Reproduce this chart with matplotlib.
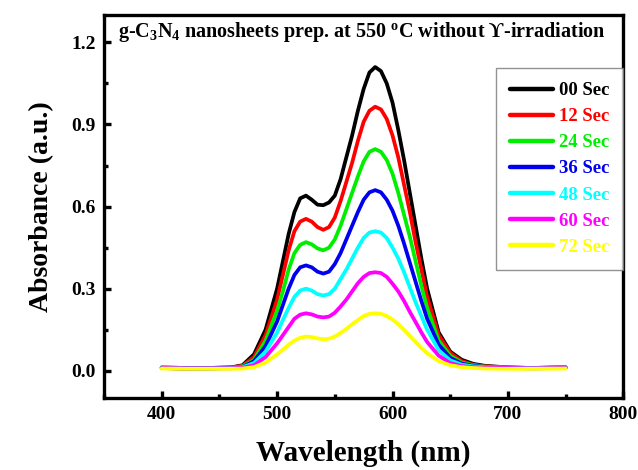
import matplotlib
matplotlib.use("Agg")
import matplotlib.pyplot as plt
from matplotlib.ticker import MultipleLocator

plt.rcParams['font.family'] = ['Liberation Serif', 'DejaVu Serif']
plt.rcParams['font.weight'] = 'bold'
plt.rcParams['mathtext.fontset'] = 'custom'
plt.rcParams['mathtext.rm'] = 'Liberation Serif:bold'
plt.rcParams['mathtext.it'] = 'Liberation Serif:bold'
plt.rcParams['mathtext.bf'] = 'Liberation Serif:bold'

wavelength = [400, 420, 440, 460, 470, 480, 490, 500, 505, 510, 515, 520, 525, 530, 535,
              540, 545, 550, 555, 560, 565, 570, 575, 580, 585, 590, 595, 600, 605, 610,
              615, 620, 625, 630, 640, 650, 660, 670, 680, 700, 720, 750]

abs_00 = [0.012, 0.010, 0.010, 0.012, 0.02, 0.06, 0.15, 0.30, 0.40, 0.50, 0.58, 0.63, 0.64, 0.625, 0.607,
          0.605, 0.615, 0.64, 0.70, 0.78, 0.86, 0.95, 1.03, 1.09, 1.11, 1.095, 1.05, 0.98, 0.88, 0.77,
          0.65, 0.53, 0.41, 0.30, 0.14, 0.07, 0.04, 0.025, 0.018, 0.012, 0.010, 0.012]
abs_12 = [0.010, 0.008, 0.010, 0.012, 0.018, 0.05, 0.13, 0.26, 0.35, 0.44, 0.51, 0.545, 0.555, 0.545, 0.525,
          0.515, 0.525, 0.56, 0.62, 0.69, 0.76, 0.84, 0.91, 0.95, 0.965, 0.955, 0.92, 0.86, 0.78, 0.68,
          0.58, 0.47, 0.37, 0.27, 0.13, 0.065, 0.035, 0.022, 0.016, 0.012, 0.010, 0.013]
abs_24 = [0.012, 0.010, 0.010, 0.011, 0.016, 0.04, 0.11, 0.22, 0.29, 0.37, 0.43, 0.46, 0.47, 0.462, 0.447,
          0.44, 0.45, 0.48, 0.53, 0.59, 0.65, 0.71, 0.765, 0.80, 0.81, 0.80, 0.77, 0.72, 0.65, 0.57,
          0.49, 0.40, 0.31, 0.23, 0.11, 0.055, 0.03, 0.02, 0.015, 0.012, 0.010, 0.012]
abs_36 = [0.010, 0.008, 0.008, 0.010, 0.014, 0.035, 0.09, 0.18, 0.24, 0.30, 0.35, 0.378, 0.385, 0.378, 0.362,
          0.355, 0.362, 0.39, 0.43, 0.48, 0.53, 0.58, 0.625, 0.652, 0.66, 0.652, 0.625, 0.585, 0.53, 0.465,
          0.395, 0.325, 0.255, 0.19, 0.095, 0.047, 0.026, 0.018, 0.014, 0.011, 0.009, 0.010]
abs_48 = [0.011, 0.009, 0.009, 0.010, 0.013, 0.028, 0.07, 0.14, 0.185, 0.23, 0.27, 0.293, 0.30, 0.293, 0.28,
          0.275, 0.28, 0.30, 0.335, 0.37, 0.41, 0.45, 0.485, 0.505, 0.51, 0.505, 0.485, 0.45, 0.41, 0.36,
          0.305, 0.25, 0.20, 0.15, 0.075, 0.038, 0.022, 0.016, 0.013, 0.011, 0.010, 0.011]
abs_60 = [0.010, 0.009, 0.009, 0.009, 0.011, 0.02, 0.05, 0.10, 0.13, 0.16, 0.19, 0.205, 0.21, 0.206, 0.198,
          0.195, 0.198, 0.212, 0.235, 0.26, 0.29, 0.32, 0.343, 0.357, 0.36, 0.357, 0.343, 0.318, 0.29, 0.255,
          0.215, 0.178, 0.14, 0.105, 0.055, 0.028, 0.017, 0.013, 0.011, 0.010, 0.009, 0.010]
abs_72 = [0.008, 0.007, 0.007, 0.007, 0.008, 0.013, 0.03, 0.06, 0.077, 0.095, 0.11, 0.12, 0.125, 0.123, 0.118,
          0.115, 0.117, 0.125, 0.138, 0.153, 0.17, 0.185, 0.20, 0.208, 0.21, 0.208, 0.20, 0.187, 0.17, 0.15,
          0.127, 0.105, 0.083, 0.064, 0.035, 0.02, 0.013, 0.01, 0.008, 0.007, 0.007, 0.008]

labels = ['00 Sec', '12 Sec', '24 Sec', '36 Sec', '48 Sec', '60 Sec', '72 Sec']
series = [abs_00, abs_12, abs_24, abs_36, abs_48, abs_60, abs_72]
colors = ['#000000', '#ff0000', '#00ee00', '#0000ee', '#00ffff', '#ff00ff', '#ffff00']

fig = plt.figure(figsize=(6.38, 4.70), dpi=100)
ax = fig.add_axes([0.163, 0.153, 0.814, 0.815])

for y, c, lab in zip(series, colors, labels):
    ax.plot(wavelength, y, color=c, lw=2.7, label=lab, solid_capstyle='round')

ax.set_xlim(350, 800)
ax.set_ylim(-0.1, 1.3)
ax.xaxis.set_minor_locator(MultipleLocator(50))
ax.yaxis.set_minor_locator(MultipleLocator(0.15))
ax.set_xticks([400, 500, 600, 700, 800])
ax.set_yticks([0.0, 0.3, 0.6, 0.9, 1.2])
ax.set_yticklabels(['0.0', '0.3', '0.6', '0.9', '1.2'])

for s in ax.spines.values():
    s.set_linewidth(2.4)
ax.tick_params(which='major', direction='in', length=5, width=2.4, labelsize=14, pad=6)
ax.tick_params(which='minor', direction='in', length=3, width=2.4)
for t in ax.get_xticklabels() + ax.get_yticklabels():
    t.set_fontweight('bold')

ax.set_xlabel('Wavelength (nm)', fontsize=21, fontweight='bold', labelpad=12)
ax.set_ylabel('Absorbance (a.u.)', fontsize=20, fontweight='bold', labelpad=12)

ax.text(0.027, 0.955, 'g-C$_3$N$_4$ nanosheets prep. at 550 $^o$C without \u03d2-irradiation',
        transform=ax.transAxes, fontsize=14.5, fontweight='bold', ha='left', va='center',
        family=['Liberation Serif', 'DejaVu Serif'])

leg = ax.legend(loc='upper right', bbox_to_anchor=(1.0, 0.862), borderaxespad=0,
                frameon=True, fancybox=False, handlelength=2.3,
                handletextpad=0.3, labelspacing=0.48, borderpad=0.75,
                prop={'weight': 'bold', 'size': 13.5})
leg.get_frame().set_edgecolor('#777777')
leg.get_frame().set_linewidth(1.0)
for txt, c in zip(leg.get_texts(), colors):
    txt.set_color(c)
for h in leg.get_lines():
    h.set_linewidth(3.2)

fig.savefig('out.png', dpi=100)
